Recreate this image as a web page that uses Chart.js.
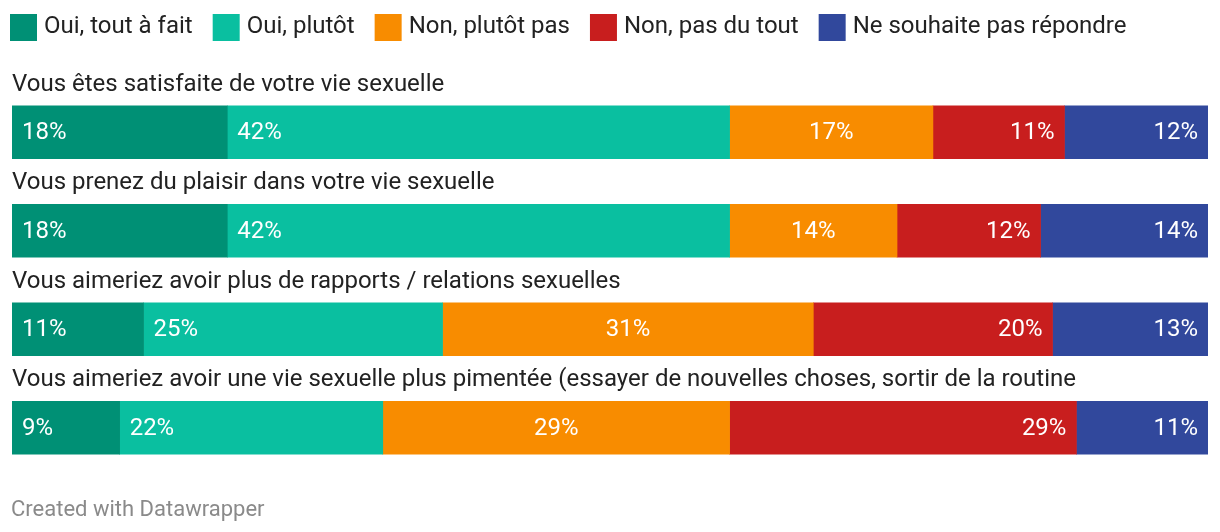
<!DOCTYPE html>
<html>
<head>
<meta charset="utf-8">
<script src="https://cdn.jsdelivr.net/npm/chart.js@4"></script>
<style>
  body { margin: 0; background: #fff; }
  #wrap { width: 1220px; height: 532px; }
</style>
</head>
<body>
<div id="wrap"><canvas id="myChart" width="1220" height="532"></canvas></div>
<script>
const questions = [
    'Vous êtes satisfaite de votre vie sexuelle',
    'Vous prenez du plaisir dans votre vie sexuelle',
    'Vous aimeriez avoir plus de rapports / relations sexuelles',
    'Vous aimeriez avoir une vie sexuelle plus pimentée (essayer de nouvelles choses, sortir de la routine'
];
const answers = ['Oui, tout à fait', 'Oui, plutôt', 'Non, plutôt pas', 'Non, pas du tout', 'Ne souhaite pas répondre'];
const toutAFait = [18, 18, 11, 9];
const plutot = [42, 42, 25, 22];
const plutotPas = [17, 14, 31, 29];
const pasDuTout = [11, 12, 20, 29];
const sansReponse = [12, 14, 13, 11];
const colors = ['#009075', '#0abfa0', '#f88c00', '#c81e1e', '#31489c'];
// where the % label sits inside each segment
const labelAlign = ['left', 'left', 'center', 'right', 'right'];

const FONT = 'Roboto, "Noto Sans", sans-serif';

const labelsPlugin = {
    id: 'dwLabels',
    afterDatasetsDraw(chart) {
        const ctx = chart.ctx;
        ctx.save();

        // legend
        ctx.font = '24px ' + FONT;
        ctx.textBaseline = 'middle';
        ctx.textAlign = 'left';
        let x = 10;
        answers.forEach((name, i) => {
            ctx.fillStyle = colors[i];
            ctx.fillRect(x, 14, 27, 27);
            ctx.fillStyle = '#222';
            ctx.fillText(name, x + 34, 27);
            x += 34 + ctx.measureText(name).width + 20;
        });

        // question titles above each bar
        const meta0 = chart.getDatasetMeta(0);
        ctx.font = '24px ' + FONT;
        ctx.textBaseline = 'alphabetic';
        meta0.data.forEach((bar, i) => {
            const top = bar.y - bar.height / 2;
            ctx.fillStyle = '#222';
            ctx.fillText(questions[i], 12, top - 15);
        });

        // percentages inside segments
        ctx.font = '24px ' + FONT;
        ctx.textBaseline = 'middle';
        ctx.fillStyle = '#fff';
        chart.data.datasets.forEach((ds, d) => {
            const meta = chart.getDatasetMeta(d);
            meta.data.forEach((bar, i) => {
                const left = Math.min(bar.base, bar.x);
                const right = Math.max(bar.base, bar.x);
                const txt = ds.data[i] + '%';
                let tx;
                if (labelAlign[d] === 'left') { ctx.textAlign = 'left'; tx = left + 10; }
                else if (labelAlign[d] === 'right') { ctx.textAlign = 'right'; tx = right - 10; }
                else { ctx.textAlign = 'center'; tx = (left + right) / 2; }
                ctx.fillText(txt, tx, bar.y + 1);
            });
        });

        // credit
        ctx.font = '22px ' + FONT;
        ctx.textAlign = 'left';
        ctx.textBaseline = 'alphabetic';
        ctx.fillStyle = '#8a8a8a';
        ctx.fillText('Created with Datawrapper', 11, 516);

        ctx.restore();
    }
};

const seriesValues = [toutAFait, plutot, plutotPas, pasDuTout, sansReponse];

const data = {
    labels: questions,
    datasets: answers.map((name, i) => ({
        label: name,
        data: seriesValues[i],
        backgroundColor: colors[i],
        borderWidth: 0,
        barThickness: 53
    }))
};

const config = {
    type: 'bar',
    data: data,
    options: {
        indexAxis: 'y',
        responsive: false,
        animation: false,
        devicePixelRatio: 1,
        layout: {
            padding: { top: 83, bottom: 55, left: 12, right: 12 }
        },
        scales: {
            x: { stacked: true, min: 0, max: 100, display: false },
            y: { stacked: true, display: false }
        },
        plugins: {
            legend: { display: false },
            tooltip: { enabled: false }
        }
    },
    plugins: [labelsPlugin]
};

var myChart = new Chart(document.getElementById('myChart'), config);
</script>
</body>
</html>
